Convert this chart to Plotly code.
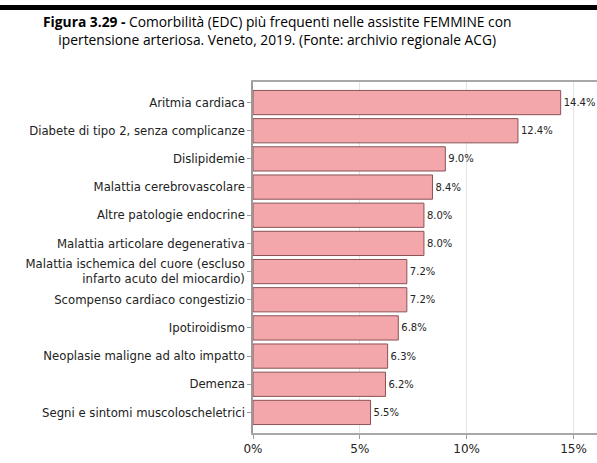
import plotly.graph_objects as go

# Comorbidità nelle assistite femmine con ipertensione (valori %)
categorie = [
    "Aritmia cardiaca",
    "Diabete di tipo 2, senza complicanze",
    "Dislipidemie",
    "Malattia cerebrovascolare",
    "Altre patologie endocrine",
    "Malattia articolare degenerativa",
    "Malattia ischemica del cuore (escluso<br>infarto acuto del miocardio)",
    "Scompenso cardiaco congestizio",
    "Ipotiroidismo",
    "Neoplasie maligne ad alto impatto",
    "Demenza",
    "Segni e sintomi muscoloscheletrici",
]
valori = [14.4, 12.4, 9.0, 8.4, 8.0, 8.0, 7.2, 7.2, 6.8, 6.3, 6.2, 5.5]
tick_x = [0, 5, 10, 15]
tick_x_label = ["0%", "5%", "10%", "15%"]

W, H = 597, 463
L, R, T, B = 253, 0, 82, 30
ph = H - T - B  # altezza area grafico in pixel


def py(pix):
    # pixel dall'alto -> coordinata paper
    return (H - B - pix) / ph


def px(pix):
    return (pix - L) / (W - L - R)


fig = go.Figure()
fig.add_trace(go.Bar(
    x=valori,
    y=categorie,
    orientation="h",
    marker=dict(color="#F4A7AA", line=dict(color="#8A5256", width=1)),
    width=0.86,
    text=[f"{v:.1f}%" for v in valori],
    textposition="outside",
    textfont=dict(family="DejaVu Sans", size=10, color="#222"),
    cliponaxis=False,
    constraintext="none",
))

fig.update_layout(
    width=W, height=H,
    margin=dict(l=L, r=R, t=T, b=B),
    plot_bgcolor="white", paper_bgcolor="white",
    showlegend=False,
    font=dict(family="DejaVu Sans", size=11, color="#222"),
)
fig.update_yaxes(
    autorange=False,
    range=[11.73, -0.73],
    automargin=False,
    showline=True, linecolor="#9a9a9a", linewidth=1.5,
    ticks="outside", ticklen=4, tickcolor="#9a9a9a",
    tickfont=dict(size=11.7, color="#222"),
)
fig.update_xaxes(
    range=[0, 16.1],
    automargin=False,
    tickvals=tick_x, ticktext=tick_x_label,
    showgrid=True, gridcolor="#e3e3e3",
    showline=True, linecolor="#a8a8a8", linewidth=1.5, mirror=True,
    ticks="outside", ticklen=4, tickcolor="#9a9a9a",
    tickfont=dict(size=12, color="#222"),
    zeroline=False,
)

# linea nera in testa: offset in pixel sopra il bordo superiore dell'area grafico
fig.add_shape(
    type="rect", xref="paper", yref="paper",
    x0=px(0), x1=1,
    ysizemode="pixel", yanchor=1, y0=T - 10, y1=T - 5,
    fillcolor="black", line=dict(width=0), layer="above",
)
fig.add_annotation(
    xref="paper", yref="paper", x=px(277), y=py(10),
    text="<b>Figura 3.29 -</b> Comorbilità (EDC) più frequenti nelle assistite FEMMINE con<br>"
         "ipertensione arteriosa. Veneto, 2019. (Fonte: archivio regionale ACG)",
    showarrow=False, xanchor="center", yanchor="top", align="center",
    font=dict(family="Open Sans", size=13.8, color="black"),
)

# la pagina di default ha un margine di 8px sul body: lo tolgo
fig.write_html("out.html", config={"displayModeBar": False},
               post_script="document.body.style.margin='0';")
